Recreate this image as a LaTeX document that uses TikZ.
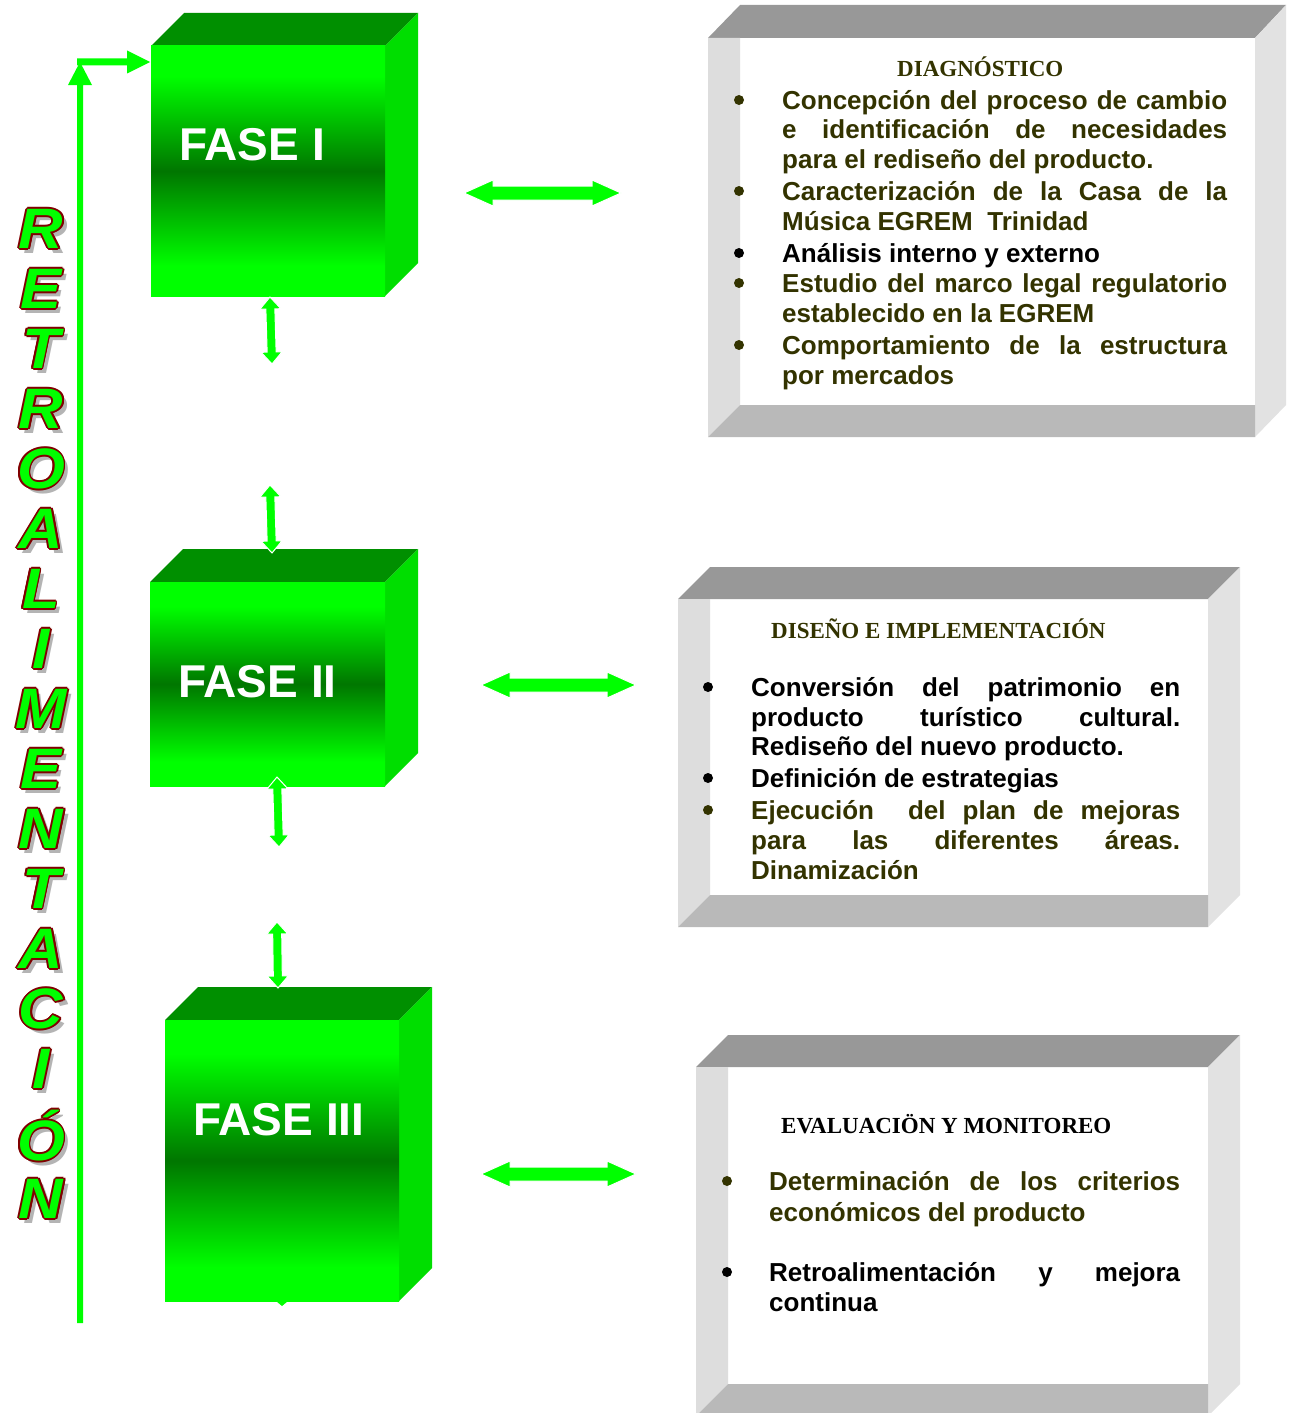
\documentclass[tikz,border=0pt]{standalone}
\usepackage{fontspec}
\setmainfont{Liberation Sans}
\newfontfamily\headfont{Liberation Serif}
\newfontfamily\retrofont{Liberation Sans}[FakeStretch=1.08]
\usetikzlibrary{calc}

\definecolor{vivid}{RGB}{0,255,0}
\definecolor{deepface}{RGB}{0,118,0}
\definecolor{lidgreen}{RGB}{0,143,0}
\definecolor{sidegreen}{RGB}{0,222,0}
\definecolor{olivetext}{RGB}{51,51,0}
\definecolor{rim}{RGB}{128,0,0}
\definecolor{shade}{RGB}{180,180,180}
\definecolor{lidgray}{RGB}{152,152,152}
\definecolor{sidegray}{RGB}{226,226,226}
\definecolor{leftgray}{RGB}{221,221,221}
\definecolor{basegray}{RGB}{185,185,185}

% front face of the phase blocks: bright, dark in the middle, bright again
\pgfdeclareverticalshading{faseface}{100bp}{color(0bp)=(vivid); color(25bp)=(vivid);
  color(31bp)=(vivid); color(50bp)=(deepface); color(69bp)=(vivid);
  color(75bp)=(vivid); color(100bp)=(vivid)}

\tikzset{
  bodyline/.style={anchor=base west, inner sep=0pt, font=\fontsize{26}{30}\selectfont\bfseries},
  headline/.style={anchor=base west, inner sep=0pt, font=\headfont\fontsize{23}{27}\selectfont\bfseries},
  faselabel/.style={anchor=base west, inner sep=0pt, text=white, font=\fontsize{46}{52}\selectfont\bfseries},
  retroletter/.style={anchor=base, inner sep=0pt, font=\retrofont\fontsize{57}{60}\selectfont\bfseries\itshape},
}

% justified line of a given width
\newcommand\fillline[2]{\makebox[#1][s]{#2}}

% outlined green letter with a grey drop shadow
\newcommand\rimglyph[1]{%
  \setbox0=\hbox{#1}%
  \rlap{\kern4.5pt\lower4.5pt\hbox{\color{shade}\copy0}}%
  \rlap{\kern-1.8pt\hbox{\color{rim}\copy0}}%
  \rlap{\kern1.8pt\hbox{\color{rim}\copy0}}%
  \rlap{\raise1.8pt\hbox{\color{rim}\copy0}}%
  \rlap{\lower1.8pt\hbox{\color{rim}\copy0}}%
  \rlap{\kern-1.3pt\raise1.3pt\hbox{\color{rim}\copy0}}%
  \rlap{\kern1.3pt\raise1.3pt\hbox{\color{rim}\copy0}}%
  \rlap{\kern-1.3pt\lower1.3pt\hbox{\color{rim}\copy0}}%
  \rlap{\kern1.3pt\lower1.3pt\hbox{\color{rim}\copy0}}%
  \hbox{\color{vivid}\copy0}}

% green block: prefix, x0, y0, x1, y1 of the front face (depth 33)
\newcommand\fasecube[5]{%
  \coordinate (#1-nw) at (#2,#3);
  \coordinate (#1-ne) at (#4,#3);
  \coordinate (#1-se) at (#4,#5);
  \coordinate (#1-sw) at (#2,#5);
  \fill[lidgreen] (#1-nw) -- ++(33,-33) -- ($(#1-ne)+(33,-33)$) -- (#1-ne) -- cycle;
  \fill[sidegreen] (#1-ne) -- ++(33,-33) -- ($(#1-se)+(33,-33)$) -- (#1-se) -- cycle;
  \shade[shading=faseface] (#1-nw) rectangle (#1-se);
}

% bevelled grey frame: prefix, X0 X1 X2 X3, Y0 Y1 Y2 Y3
\newcommand\grayframe[9]{%
  \coordinate (#1-in) at (#3,#7);
  \coordinate (#1-out) at (#4,#8);
  \fill[white] (#1-in) rectangle (#1-out);
  \fill[lidgray] (#2,#7) -- (#3,#6) -- (#5,#6) -- (#4,#7) -- cycle;
  \fill[sidegray] (#4,#7) -- (#5,#6) -- (#5,#8) -- (#4,#9) -- cycle;
  \fill[leftgray] (#2,#7) -- (#3,#7) -- (#3,#8) -- (#2,#9) -- cycle;
  \fill[basegray] (#2,#9) -- (#3,#8) -- (#4,#8) -- (#4,#9) -- cycle;
}

% block arrow with heads at both ends: from, to, head length, head half width, shaft half width
\newcommand\twoway[5]{%
  \filldraw[fill=vivid, draw=white, line width=1pt, line join=miter] (#1)
    -- ($(#1)!#3!(#2)!#4!90:(#2)$)
    -- ($(#1)!#3!(#2)!#5!90:(#2)$)
    -- ($(#2)!#3!(#1)!#5!-90:(#1)$)
    -- ($(#2)!#3!(#1)!#4!-90:(#1)$)
    -- (#2)
    -- ($(#2)!#3!(#1)!#4!90:(#1)$)
    -- ($(#2)!#3!(#1)!#5!90:(#1)$)
    -- ($(#1)!#3!(#2)!#5!-90:(#2)$)
    -- ($(#1)!#3!(#2)!#4!-90:(#2)$)
    -- cycle;}

% block arrow with one head at the second point
\newcommand\oneway[5]{%
  \fill[vivid] ($(#1)!#5!90:(#2)$)
    -- ($(#2)!#3!(#1)!#5!-90:(#1)$)
    -- ($(#2)!#3!(#1)!#4!-90:(#1)$)
    -- (#2)
    -- ($(#2)!#3!(#1)!#4!90:(#1)$)
    -- ($(#2)!#3!(#1)!#5!90:(#1)$)
    -- ($(#1)!#5!-90:(#2)$)
    -- cycle;}

\begin{document}
\begin{tikzpicture}[x=1pt,y=-1pt]
\useasboundingbox (0,0) rectangle (1292,1413);
\fill[white] (0,0) rectangle (1292,1413);

% ---------- phase blocks ----------
\fasecube{faseA}{151}{46}{385}{296}
\fasecube{faseB}{150}{582}{385}{786}
\fasecube{faseC}{165}{1020}{399}{1301}
\coordinate (tipC) at (282,1301);
\fill[vivid] ($(tipC)+(-6,0)$) -- ($(tipC)+(6,0)$) -- ($(tipC)+(0,5)$) -- cycle;

\node[faselabel] (labA) at (179,160) {FASE I};
\node[faselabel] (labB) at (178,697) {FASE II};
\node[faselabel] (labC) at (193,1135) {FASE III};

% ---------- description frames ----------
\grayframe{boxA}{708}{740}{1255}{1286}{5}{38}{405}{437}
\grayframe{boxB}{678}{710}{1208}{1240}{567}{599}{895}{927}
\grayframe{boxC}{696}{728}{1208}{1240}{1035}{1067}{1384}{1416}

% frame 1
\node[headline, text=olivetext] (hA) at (897,77) {DIAGNÓSTICO};
\foreach \yy/\cc in {100/olivetext,191/olivetext,253/black,283/olivetext,345/olivetext}
  \fill[\cc] (739,\yy) circle[radius=5pt];
\node[bodyline, text=olivetext] (a1) at (782,109) {\fillline{445pt}{Concepción del proceso de cambio}};
\node[bodyline, text=olivetext] (a2) at (782,138.5) {\fillline{445pt}{e identificación de necesidades}};
\node[bodyline, text=olivetext] (a3) at (782,168) {para el rediseño del producto.};
\node[bodyline, text=olivetext] (a4) at (782,200) {\fillline{445pt}{Caracterización de la Casa de la}};
\node[bodyline, text=olivetext] (a5) at (782,230) {Música EGREM\ \ Trinidad};
\node[bodyline, text=black] (a6) at (782,262) {Análisis interno y externo};
\node[bodyline, text=olivetext] (a7) at (782,292) {\fillline{445pt}{Estudio del marco legal regulatorio}};
\node[bodyline, text=olivetext] (a8) at (782,322) {establecido en la EGREM};
\node[bodyline, text=olivetext] (a9) at (782,354) {\fillline{445pt}{Comportamiento de la estructura}};
\node[bodyline, text=olivetext] (a10) at (782,384) {por mercados};

% frame 2
\node[headline, text=olivetext] (hB) at (771,638) {DISEÑO E IMPLEMENTACIÓN};
\foreach \yy/\cc in {687/black,778/black,810/olivetext}
  \fill[\cc] (708,\yy) circle[radius=5pt];
\node[bodyline, text=black] (b1) at (751,696) {\fillline{429pt}{Conversión del patrimonio en}};
\node[bodyline, text=black] (b2) at (751,726) {\fillline{429pt}{producto turístico cultural.}};
\node[bodyline, text=black] (b3) at (751,755) {Rediseño del nuevo producto.};
\node[bodyline, text=black] (b4) at (751,787) {Definición de estrategias};
\node[bodyline, text=olivetext] (b5) at (751,819) {\fillline{429pt}{Ejecución\ \ del plan de mejoras}};
\node[bodyline, text=olivetext] (b6) at (751,849) {\fillline{429pt}{para las diferentes áreas.}};
\node[bodyline, text=olivetext] (b7) at (751,879) {Dinamización};

% frame 3
\node[headline, text=black] (hC) at (781,1133) {EVALUACIÖN Y MONITOREO};
\foreach \yy/\cc in {1181/olivetext,1272/black}
  \fill[\cc] (727,\yy) circle[radius=5pt];
\node[bodyline, text=olivetext] (c1) at (769,1190) {\fillline{411pt}{Determinación de los criterios}};
\node[bodyline, text=olivetext] (c2) at (769,1221) {económicos del producto};
\node[bodyline, text=black] (c3) at (769,1281) {\fillline{411pt}{Retroalimentación y mejora}};
\node[bodyline, text=black] (c4) at (769,1311) {continua};

% ---------- links between blocks and frames ----------
\coordinate (h1a) at (464,193);  \coordinate (h1b) at (621,193);
\coordinate (h2a) at (481,685);  \coordinate (h2b) at (636,685);
\coordinate (h3a) at (481,1174); \coordinate (h3b) at (636,1174);
\twoway{h1a}{h1b}{29pt}{13pt}{7pt}
\twoway{h2a}{h2b}{29pt}{13pt}{7pt}
\twoway{h3a}{h3b}{29pt}{13pt}{7pt}

% ---------- links between consecutive phases ----------
\coordinate (v1a) at (270,297); \coordinate (v1b) at (272,364);
\coordinate (v2a) at (270,485); \coordinate (v2b) at (272,553);
\coordinate (v3a) at (277,777); \coordinate (v3b) at (279,847);
\coordinate (v4a) at (277,922); \coordinate (v4b) at (278,988);
\twoway{v1a}{v1b}{12pt}{10.5pt}{4.5pt}
\twoway{v2a}{v2b}{12pt}{10.5pt}{4.5pt}
\twoway{v3a}{v3b}{12pt}{10.5pt}{4.5pt}
\twoway{v4a}{v4b}{12pt}{10.5pt}{4.5pt}

% ---------- feedback loop ----------
\coordinate (rb) at (80,1323);
\coordinate (rt) at (80,62);
\coordinate (rh) at (77,62);
\coordinate (rf) at (150,62);
\oneway{rb}{rt}{23pt}{12pt}{3pt}
\oneway{rh}{rf}{23pt}{11.5pt}{3.5pt}

% ---------- vertical caption ----------
\foreach \ch [count=\k from 0] in {R,E,T,R,O,A,L,I,M,E,N,T,A,C,I}
  \node[retroletter] (r\k) at (41,{248.5+60*\k}) {\rimglyph{\ch}};
\node[retroletter] (r15) at (41,1160.5) {\rimglyph{Ó}};
\node[retroletter] (r16) at (41,1218.5) {\rimglyph{N}};
\end{tikzpicture}
\end{document}
